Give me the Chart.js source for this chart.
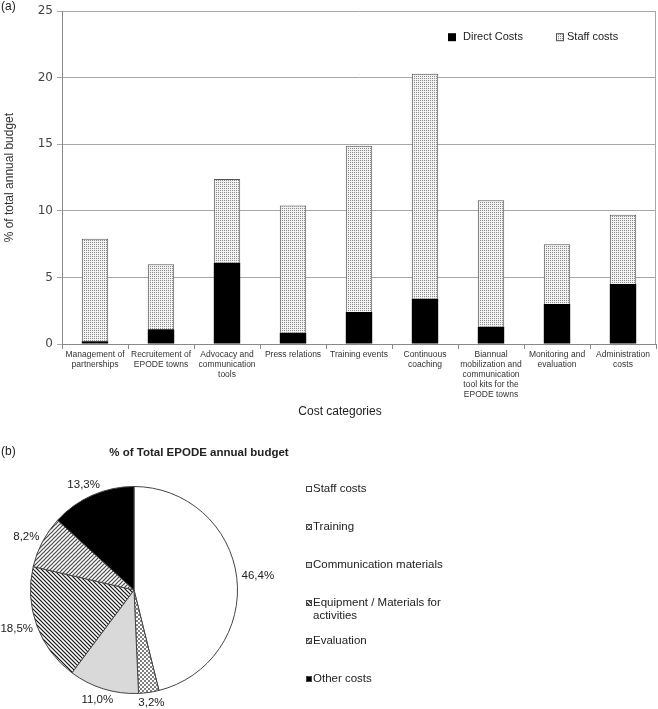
<!DOCTYPE html>
<html>
<head>
<meta charset="utf-8">
<script src="https://cdn.jsdelivr.net/npm/chart.js@4.4.1/dist/chart.umd.min.js"></script>
<style>
  body { margin: 0; background: #fff; width: 658px; height: 709px; position: relative; overflow: hidden; }
  #barChart { position: absolute; left: 0; top: 0; }
  #pieChart { position: absolute; left: 0; top: 420px; }
</style>
</head>
<body>
<canvas id="barChart" width="658" height="420"></canvas>
<canvas id="pieChart" width="658" height="289"></canvas>
<script>
// (a) cost categories, % of total annual budget
const categories = [
  ["Management of", "partnerships"],
  ["Recruitement of", "EPODE towns"],
  ["Advocacy and", "communication", "tools"],
  ["Press relations"],
  ["Training events"],
  ["Continuous", "coaching"],
  ["Biannual", "mobilization and", "communication", "tool kits for the", "EPODE towns"],
  ["Monitoring and", "evaluation"],
  ["Administration", "costs"]
];
const directCosts = [0.2, 1.1, 6.1, 0.85, 2.4, 3.4, 1.3, 3.0, 4.5];
const staffCosts  = [7.7, 4.9, 6.3, 9.55, 12.5, 16.9, 9.5, 4.5, 5.2];
const yTicks = [0, 5, 10, 15, 20, 25];

// (b) % of Total EPODE annual budget
const pieLabels = ["Staff costs", "Training", "Communication materials",
  ["Equipment / Materials for", "activities"], "Evaluation", "Other costs"];
const pieValues = [46.4, 3.2, 11.0, 18.5, 8.2, 13.3];

const sans = "'Liberation Sans', Arial, sans-serif";

// fill patterns
function makePattern(kind) {
  const c = document.createElement('canvas');
  const g = c.getContext('2d');
  if (kind === 'dots') {
    c.width = 2; c.height = 2;
    g.fillStyle = '#f2f2f2'; g.fillRect(0, 0, 2, 2);
    g.fillStyle = '#8a8a8a'; g.fillRect(0, 0, 1, 1);
  } else if (kind === 'checker') {
    c.width = 4; c.height = 4;
    g.fillStyle = '#fff'; g.fillRect(0, 0, 4, 4);
    g.fillStyle = '#808080'; g.fillRect(0, 0, 2, 2); g.fillRect(2, 2, 2, 2);
  } else if (kind === 'stripes') {
    c.width = 4; c.height = 4;
    g.fillStyle = '#fff'; g.fillRect(0, 0, 4, 4);
    g.strokeStyle = '#111'; g.lineWidth = 1.2;
    g.beginPath();
    g.moveTo(-1, -1); g.lineTo(5, 5);
    g.moveTo(-1, 3); g.lineTo(1, 5);
    g.moveTo(3, -1); g.lineTo(5, 1);
    g.stroke();
  } else if (kind === 'hatch') {
    c.width = 4; c.height = 4;
    g.fillStyle = '#fff'; g.fillRect(0, 0, 4, 4);
    g.strokeStyle = '#444'; g.lineWidth = 1.1;
    g.beginPath();
    g.moveTo(-1, 5); g.lineTo(5, -1);
    g.moveTo(-1, 1); g.lineTo(1, -1);
    g.moveTo(3, 5); g.lineTo(5, 3);
    g.stroke();
    g.strokeStyle = '#aaa'; g.lineWidth = 0.7;
    g.beginPath();
    g.moveTo(0, 0); g.lineTo(2, 2);
    g.stroke();
  }
  return g.createPattern(c, 'repeat');
}

const dotFill = makePattern('dots');
const pieFills = ['#ffffff', makePattern('checker'), '#d9d9d9',
  makePattern('stripes'), makePattern('hatch'), '#000000'];

// ---------- bar chart ----------
const barExtras = {
  id: 'barExtras',
  afterDraw(chart) {
    const ctx = chart.ctx;
    const a = chart.chartArea;
    ctx.save();
    // right border of plot
    ctx.strokeStyle = '#a8a8a8';
    ctx.lineWidth = 1;
    ctx.beginPath();
    ctx.moveTo(a.right - 0.5, a.top);
    ctx.lineTo(a.right - 0.5, a.bottom);
    ctx.stroke();

    // legend inside plot
    const lx = a.right - 208, ly = a.top + 22;
    ctx.fillStyle = '#000';
    ctx.fillRect(lx, ly, 8, 8);
    ctx.fillStyle = dotFill;
    ctx.fillRect(lx + 108, ly, 8, 8);
    ctx.strokeStyle = '#555';
    ctx.strokeRect(lx + 108.5, ly + 0.5, 7, 7);
    ctx.font = '11px ' + sans;
    ctx.fillStyle = '#222';
    ctx.textBaseline = 'middle';
    ctx.textAlign = 'left';
    ctx.fillText('Direct Costs', lx + 15, ly + 4);
    ctx.fillText('Staff costs', lx + 119, ly + 4);

    ctx.font = '12px ' + sans;
    ctx.fillText('(a)', 1, 7);

    ctx.textAlign = 'center';
    ctx.fillText('Cost categories', 340, 412);
    ctx.restore();
  }
};

new Chart(document.getElementById('barChart'), {
  type: 'bar',
  data: {
    labels: categories,
    datasets: [
      {
        label: 'Direct Costs',
        data: directCosts,
        backgroundColor: '#000',
        borderColor: '#000',
        borderWidth: 0
      },
      {
        label: 'Staff costs',
        data: staffCosts,
        backgroundColor: dotFill,
        borderColor: '#555',
        borderWidth: 1
      }
    ]
  },
  options: {
    responsive: false,
    animation: false,
    layout: { padding: { top: 5, right: 2, left: 0, bottom: 0 } },
    datasets: { bar: { barPercentage: 0.4, categoryPercentage: 1 } },
    plugins: {
      legend: { display: false },
      tooltip: { enabled: false }
    },
    scales: {
      x: {
        stacked: true,
        grid: { offset: true, drawOnChartArea: false, tickLength: 5, color: '#888' },
        border: { color: '#888' },
        ticks: {
          font: { family: sans, size: 8.5, lineHeight: 1.18 },
          color: '#333',
          maxRotation: 0,
          autoSkip: false,
          padding: 1
        },
        afterFit(s) { s.height = 76; }
      },
      y: {
        stacked: true,
        min: 0,
        max: 25,
        afterBuildTicks(s) { s.ticks = yTicks.map(v => ({ value: v })); },
        grid: { color: '#a8a8a8', tickLength: 5 },
        border: { color: '#888' },
        ticks: {
          font: { family: "'DejaVu Sans', Verdana, sans-serif", size: 12 },
          color: '#444',
          padding: 4
        },
        title: {
          display: true,
          text: '% of total annual budget',
          font: { family: sans, size: 12 },
          color: '#333',
          padding: { top: 2, bottom: 0 }
        },
        afterFit(s) { s.width = 62; }
      }
    }
  },
  plugins: [barExtras]
});

// ---------- pie chart ----------
const pieExtras = {
  id: 'pieExtras',
  afterDraw(chart) {
    const ctx = chart.ctx;
    ctx.save();
    ctx.fillStyle = '#222';
    ctx.textBaseline = 'middle';

    ctx.font = '12px ' + sans;
    ctx.textAlign = 'left';
    ctx.fillText('(b)', 1, 32);

    ctx.font = 'bold 11.5px ' + sans;
    ctx.textAlign = 'center';
    ctx.fillText('% of Total EPODE annual budget', 199, 33);

    // value labels outside slices
    ctx.font = '11.5px ' + sans;
    const arcs = chart.getDatasetMeta(0).data;
    arcs.forEach((arc, i) => {
      const p = arc.getProps(['x', 'y', 'startAngle', 'endAngle', 'outerRadius'], true);
      const mid = (p.startAngle + p.endAngle) / 2;
      const dx = Math.cos(mid), dy = Math.sin(mid);
      const txt = pieValues[i].toFixed(1).replace('.', ',') + '%';
      const hw = ctx.measureText(txt).width / 2, hh = 6;
      const r = p.outerRadius + 5;
      ctx.fillText(txt, p.x + dx * r + dx * hw, p.y + dy * r + dy * hh);
    });

    // legend on the right
    ctx.textAlign = 'left';
    let y = 69;
    pieLabels.forEach((lab, i) => {
      ctx.fillStyle = pieFills[i];
      ctx.fillRect(306, y - 3, 6, 6);
      ctx.strokeStyle = '#444';
      ctx.lineWidth = 1;
      ctx.strokeRect(306.5, y - 2.5, 5, 5);
      ctx.fillStyle = '#222';
      const lines = Array.isArray(lab) ? lab : [lab];
      lines.forEach((ln, k) => ctx.fillText(ln, 313, y + k * 13));
      y += 38;
    });
    ctx.restore();
  }
};

new Chart(document.getElementById('pieChart'), {
  type: 'pie',
  data: {
    labels: pieLabels,
    datasets: [{
      data: pieValues,
      backgroundColor: pieFills,
      borderColor: '#444',
      borderWidth: 1
    }]
  },
  options: {
    responsive: false,
    animation: false,
    layout: { padding: { left: 30, right: 420, top: 66, bottom: 15 } },
    plugins: {
      legend: { display: false },
      tooltip: { enabled: false }
    }
  },
  plugins: [pieExtras]
});
</script>
</body>
</html>
